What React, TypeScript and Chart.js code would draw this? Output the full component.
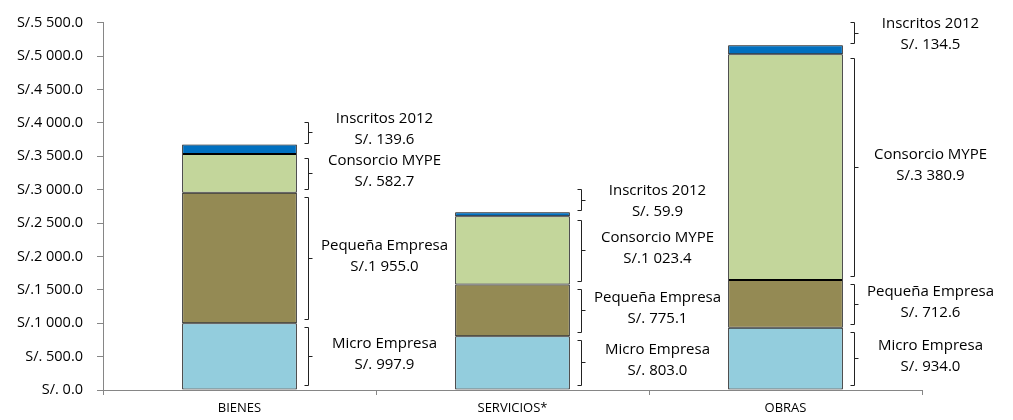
import React, { useEffect, useRef } from 'react';
import { Chart, registerables } from 'chart.js';

Chart.register(...registerables);

const categories = ['BIENES', 'SERVICIOS*', 'OBRAS'];
const seriesNames = ['Micro Empresa', 'Pequeña Empresa', 'Consorcio MYPE', 'Inscritos 2012'];
const microEmpresa = [997.9, 803.0, 934.0];
const pequenaEmpresa = [1955.0, 775.1, 712.6];
const consorcioMype = [582.7, 1023.4, 3380.9];
const inscritos2012 = [139.6, 59.9, 134.5];
const seriesColors = ['#93CDDD', '#948A54', '#C3D69B', '#0070C0'];
const yMax = 5500;
const yStep = 500;

const FONT = '"Open Sans", Lato, sans-serif';

function fmtSoles(v: number): string {
  const fixed = Math.abs(v).toFixed(1);
  const [intPart, dec] = fixed.split('.');
  const n = parseInt(intPart, 10);
  if (n >= 1000) {
    const th = Math.floor(n / 1000);
    const rest = String(n % 1000).padStart(3, '0');
    return `S/.${th} ${rest}.${dec}`;
  }
  return `S/. ${n}.${dec}`;
}

const bracketPlugin = {
  id: 'brackets',
  afterDatasetsDraw(chart: any) {
    const ctx = chart.ctx;
    const nDs = chart.data.datasets.length;
    const nCat = chart.data.labels.length;
    ctx.save();
    ctx.strokeStyle = '#222';
    ctx.lineWidth = 1;
    ctx.fillStyle = '#000';
    ctx.font = `15px ${FONT}`;
    ctx.textAlign = 'center';
    ctx.textBaseline = 'middle';
    for (let i = 0; i < nCat; i++) {
      let prevLine1 = Infinity;
      for (let d = 0; d < nDs; d++) {
        const el = chart.getDatasetMeta(d).data[i];
        const { x, y, base, width } = el.getProps(['x', 'y', 'base', 'width'], true);
        const top = Math.min(y, base);
        const bottom = Math.max(y, base);
        let bTop: number, bBot: number;
        if (d === nDs - 1) {
          bBot = top - 2;
          bTop = bBot - 21;
        } else {
          bTop = top + 4;
          bBot = bottom - (d === 0 ? 5 : 4);
        }
        const bx = Math.round(x + width / 2 + 11) + 0.5;
        const mid = (bTop + bBot) / 2;
        ctx.beginPath();
        ctx.moveTo(bx - 4, Math.round(bTop) + 0.5);
        ctx.lineTo(bx, Math.round(bTop) + 0.5);
        ctx.lineTo(bx, Math.round(bBot) + 0.5);
        ctx.lineTo(bx - 4, Math.round(bBot) + 0.5);
        ctx.moveTo(bx, Math.round(mid) + 0.5);
        ctx.lineTo(bx + 4, Math.round(mid) + 0.5);
        ctx.stroke();

        let c = d === nDs - 1 ? mid + 1 : mid - 2;
        if (c > prevLine1 - 31.5) c = prevLine1 - 31.5;
        const tx = bx + 76;
        const value = chart.data.datasets[d].data[i];
        ctx.fillText(chart.data.datasets[d].label, tx, c - 10.5);
        ctx.fillText(fmtSoles(value), tx, c + 10.5);
        prevLine1 = c - 10.5;
      }
    }
    ctx.restore();
  },
};

export default function App() {
  const canvasRef = useRef<HTMLCanvasElement | null>(null);

  useEffect(() => {
    document.body.style.margin = '0';
    if (!canvasRef.current) return;
    const seriesData = [microEmpresa, pequenaEmpresa, consorcioMype, inscritos2012];
    const chart = new Chart(canvasRef.current, {
      type: 'bar',
      data: {
        labels: categories,
        datasets: seriesData.map((data, k) => ({
          label: seriesNames[k],
          data,
          backgroundColor: seriesColors[k],
          borderColor: '#000',
          borderWidth: 1,
          borderSkipped: false,
          categoryPercentage: 1,
          barPercentage: 0.42,
        })),
      },
      options: {
        animation: false,
        responsive: false,
        maintainAspectRatio: false,
        layout: { padding: { top: 19, right: 91, left: 0, bottom: 0 } },
        plugins: {
          legend: { display: false },
          tooltip: { enabled: false },
        },
        scales: {
          x: {
            stacked: true,
            grid: {
              drawOnChartArea: false,
              offset: true,
              tickLength: 5,
              color: '#868686',
            },
            border: { color: '#868686' },
            ticks: {
              color: '#000',
              font: { family: FONT, size: 13 },
              padding: 5,
            },
            afterFit: (scale: any) => {
              scale.height = 30;
            },
          },
          y: {
            stacked: true,
            min: 0,
            max: yMax,
            grid: {
              drawOnChartArea: false,
              tickLength: 6,
              color: '#868686',
            },
            border: { color: '#868686' },
            ticks: {
              stepSize: yStep,
              color: '#000',
              font: { family: FONT, size: 14.5 },
              padding: 14,
              callback: (v: any) => fmtSoles(Number(v)),
            },
            afterFit: (scale: any) => {
              scale.width = 103;
            },
          },
        },
      },
      plugins: [bracketPlugin],
    });
    return () => chart.destroy();
  }, []);

  return (
    <div style={{ width: 1013, height: 420 }}>
      <canvas ref={canvasRef} width={1013} height={420} style={{ display: 'block' }} />
    </div>
  );
}
